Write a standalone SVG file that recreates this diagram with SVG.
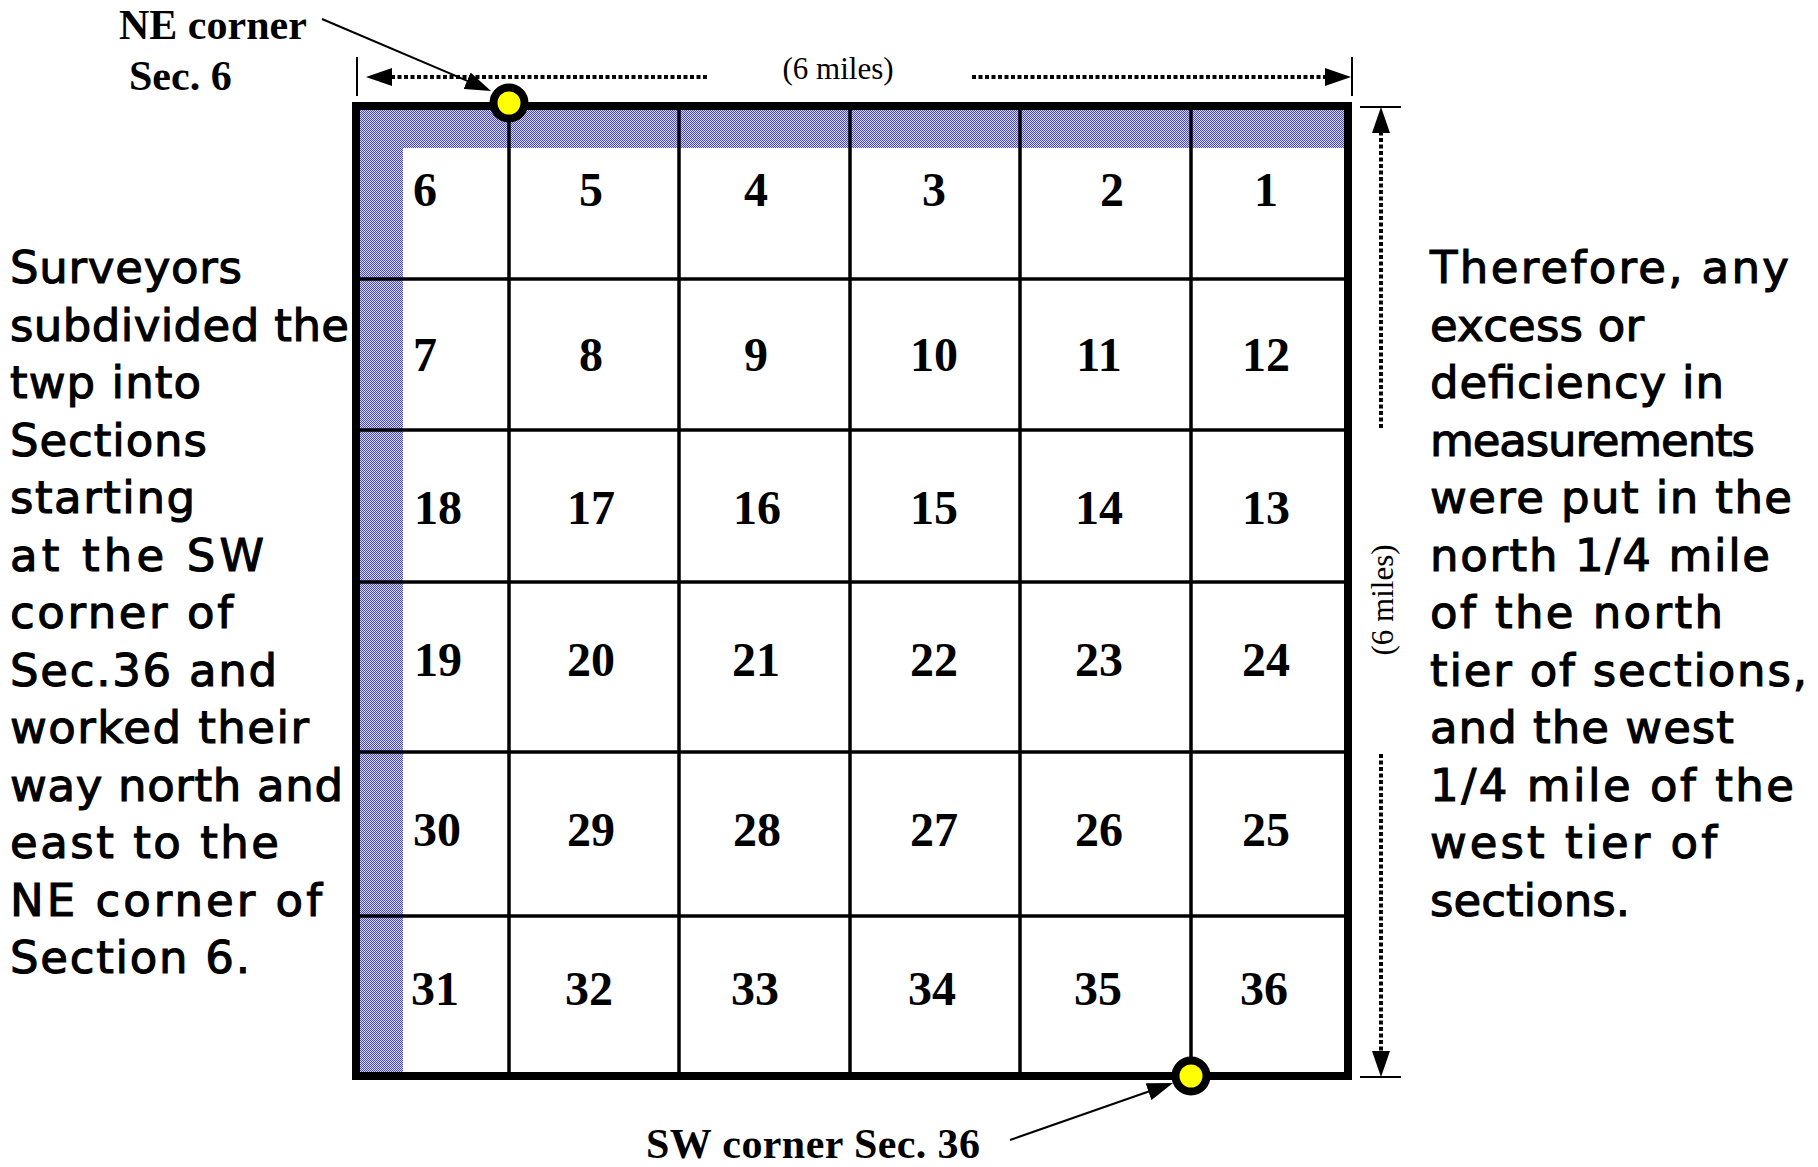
<svg xmlns="http://www.w3.org/2000/svg" width="1818" height="1167" viewBox="0 0 1818 1167">
<style>
.num{font-family:"Liberation Serif","Times New Roman",serif;font-weight:bold;font-size:48px;text-anchor:middle;fill:#000}
.lbl{font-family:"Liberation Serif","Times New Roman",serif;font-weight:bold;font-size:42px;fill:#000}
.dim{font-family:"Liberation Serif","Times New Roman",serif;font-size:31px;fill:#000;text-anchor:middle}
.note{font-family:"DejaVu Sans","Verdana",sans-serif;font-size:45px;fill:#000;stroke:#000;stroke-width:1.1}
.grid{stroke:#000;stroke-width:3.5;fill:none}
.dot{stroke:#000;stroke-width:4;stroke-dasharray:4 2.5;fill:none}
.tick{stroke:#000;stroke-width:2;fill:none}
.lead{stroke:#000;stroke-width:2;fill:none}
.corner{fill:#ffff00;stroke:#000;stroke-width:8}
</style>
<defs>
<pattern id="dots" patternUnits="userSpaceOnUse" width="2" height="2">
<rect width="2" height="2" fill="#d8d8f8"/>
<rect width="1" height="1" fill="#4646d2"/>
<rect x="1" y="1" width="1" height="1" fill="#4646d2"/>
</pattern>
<marker id="ah" markerUnits="userSpaceOnUse" viewBox="0 0 26 18" markerWidth="26" markerHeight="18" refX="1" refY="9" orient="auto">
<path d="M0,0 L26,9 L0,18 z" fill="#000"/>
</marker>
</defs>
<rect width="1818" height="1167" fill="#fff"/>

<g id="township">
<rect x="360" y="110" width="984" height="38" fill="url(#dots)"/>
<rect x="360" y="110" width="43" height="962" fill="url(#dots)"/>
<g class="grid">
<line x1="509" y1="106" x2="509" y2="1076"/>
<line x1="679" y1="106" x2="679" y2="1076"/>
<line x1="850" y1="106" x2="850" y2="1076"/>
<line x1="1020" y1="106" x2="1020" y2="1076"/>
<line x1="1191" y1="106" x2="1191" y2="1076"/>
<line x1="356" y1="279" x2="1348" y2="279"/>
<line x1="356" y1="430" x2="1348" y2="430"/>
<line x1="356" y1="582" x2="1348" y2="582"/>
<line x1="356" y1="752" x2="1348" y2="752"/>
<line x1="356" y1="916" x2="1348" y2="916"/>
</g>
<rect x="356" y="106" width="992" height="970" fill="none" stroke="#000" stroke-width="8"/>
</g>

<g id="sections">
<g id="sec-6"><text class="num" x="425" y="206">6</text></g>
<g id="sec-5"><text class="num" x="591" y="206">5</text></g>
<g id="sec-4"><text class="num" x="756" y="206">4</text></g>
<g id="sec-3"><text class="num" x="934" y="206">3</text></g>
<g id="sec-2"><text class="num" x="1112" y="206">2</text></g>
<g id="sec-1"><text class="num" x="1266" y="206">1</text></g>
<g id="sec-7"><text class="num" x="425" y="371">7</text></g>
<g id="sec-8"><text class="num" x="591" y="371">8</text></g>
<g id="sec-9"><text class="num" x="756" y="371">9</text></g>
<g id="sec-10"><text class="num" x="934" y="371">10</text></g>
<g id="sec-11"><text class="num" x="1099" y="371">11</text></g>
<g id="sec-12"><text class="num" x="1266" y="371">12</text></g>
<g id="sec-18"><text class="num" x="438" y="524">18</text></g>
<g id="sec-17"><text class="num" x="591" y="524">17</text></g>
<g id="sec-16"><text class="num" x="757" y="524">16</text></g>
<g id="sec-15"><text class="num" x="934" y="524">15</text></g>
<g id="sec-14"><text class="num" x="1099" y="524">14</text></g>
<g id="sec-13"><text class="num" x="1266" y="524">13</text></g>
<g id="sec-19"><text class="num" x="438" y="676">19</text></g>
<g id="sec-20"><text class="num" x="591" y="676">20</text></g>
<g id="sec-21"><text class="num" x="756" y="676">21</text></g>
<g id="sec-22"><text class="num" x="934" y="676">22</text></g>
<g id="sec-23"><text class="num" x="1099" y="676">23</text></g>
<g id="sec-24"><text class="num" x="1266" y="676">24</text></g>
<g id="sec-30"><text class="num" x="437" y="846">30</text></g>
<g id="sec-29"><text class="num" x="591" y="846">29</text></g>
<g id="sec-28"><text class="num" x="757" y="846">28</text></g>
<g id="sec-27"><text class="num" x="934" y="846">27</text></g>
<g id="sec-26"><text class="num" x="1099" y="846">26</text></g>
<g id="sec-25"><text class="num" x="1266" y="846">25</text></g>
<g id="sec-31"><text class="num" x="435" y="1005">31</text></g>
<g id="sec-32"><text class="num" x="589" y="1005">32</text></g>
<g id="sec-33"><text class="num" x="755" y="1005">33</text></g>
<g id="sec-34"><text class="num" x="932" y="1005">34</text></g>
<g id="sec-35"><text class="num" x="1098" y="1005">35</text></g>
<g id="sec-36"><text class="num" x="1264" y="1005">36</text></g>
</g>

<g id="connectors">
<line class="tick" x1="357" y1="57" x2="357" y2="96"/>
<line class="tick" x1="1352" y1="57" x2="1352" y2="96"/>
<line class="tick" x1="1360" y1="107" x2="1401" y2="107"/>
<line class="tick" x1="1360" y1="1077" x2="1401" y2="1077"/>
<line class="dot" x1="707" y1="77" x2="391" y2="77" marker-end="url(#ah)"/>
<line class="dot" x1="972" y1="77" x2="1326" y2="77" marker-end="url(#ah)"/>
<line class="dot" x1="1381" y1="428" x2="1381" y2="132" marker-end="url(#ah)"/>
<line class="dot" x1="1381" y1="754" x2="1381" y2="1052" marker-end="url(#ah)"/>
<line class="lead" x1="322" y1="19" x2="468" y2="81.2" marker-end="url(#ah)"/>
<line class="lead" x1="1010" y1="1140" x2="1149.4" y2="1091.3" marker-end="url(#ah)"/>
</g>

<g id="ne-corner">
<circle class="corner" cx="509" cy="103" r="15.5"/>
</g>
<g id="sw-corner">
<circle class="corner" cx="1191" cy="1076" r="15.5"/>
</g>

<g id="label-ne">
<text class="lbl" x="119" y="39">NE corner</text>
<text class="lbl" x="129" y="90">Sec. 6</text>
</g>
<g id="label-sw">
<text class="lbl" x="646" y="1158" textLength="334">SW corner Sec. 36</text>
</g>
<g id="dim-width">
<text class="dim" x="838" y="79">(6 miles)</text>
</g>
<g id="dim-height">
<text class="dim" transform="translate(1393,600) rotate(-90)">(6 miles)</text>
</g>

<g id="note-left" class="note">
<text x="10" y="283" textLength="232">Surveyors</text>
<text x="10" y="340.5" textLength="339">subdivided the</text>
<text x="10" y="398" textLength="191">twp into</text>
<text x="10" y="455.5" textLength="197">Sections</text>
<text x="10" y="513" textLength="185">starting</text>
<text x="10" y="570.5" textLength="254">at the SW</text>
<text x="10" y="628" textLength="223">corner of</text>
<text x="10" y="685.5" textLength="267">Sec.36 and</text>
<text x="10" y="743" textLength="299">worked their</text>
<text x="10" y="800.5" textLength="333">way north and</text>
<text x="10" y="858" textLength="269">east to the</text>
<text x="10" y="915.5" textLength="312">NE corner of</text>
<text x="10" y="973" textLength="240">Section 6.</text>
</g>

<g id="note-right" class="note">
<text x="1430" y="283" textLength="359">Therefore, any</text>
<text x="1430" y="340.5" textLength="214">excess or</text>
<text x="1430" y="398" textLength="294">deficiency in</text>
<text x="1430" y="455.5" textLength="325">measurements</text>
<text x="1430" y="513" textLength="362">were put in the</text>
<text x="1430" y="570.5" textLength="340">north 1/4 mile</text>
<text x="1430" y="628" textLength="293">of the north</text>
<text x="1430" y="685.5" textLength="377">tier of sections,</text>
<text x="1430" y="743" textLength="304">and the west</text>
<text x="1430" y="800.5" textLength="364">1/4 mile of the</text>
<text x="1430" y="858" textLength="287">west tier of</text>
<text x="1430" y="915.5" textLength="200">sections.</text>
</g>
</svg>
